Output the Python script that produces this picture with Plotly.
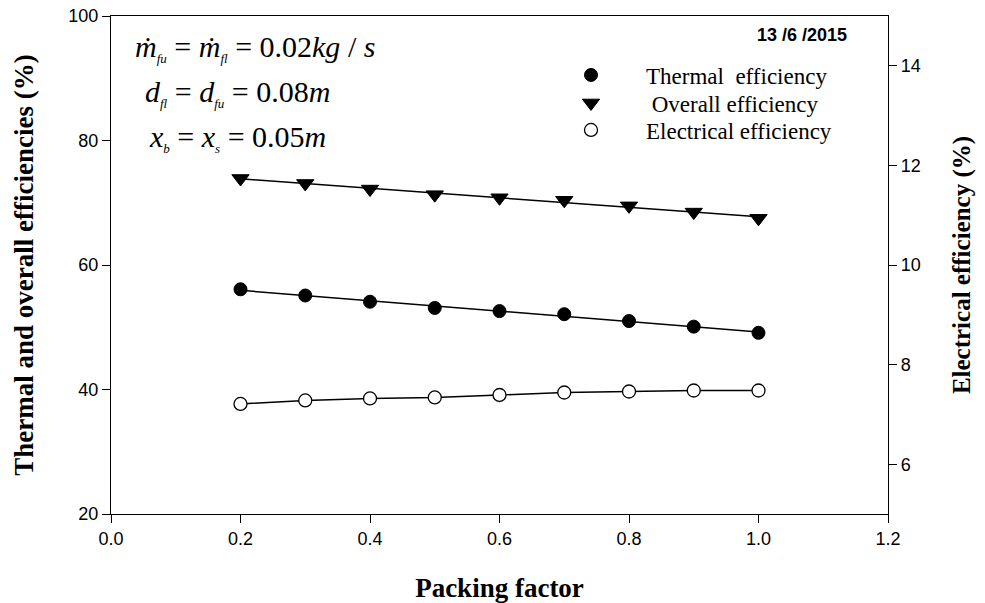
import numpy as np
import plotly.graph_objects as go

# Packing factor and measured efficiencies (13/6/2015)
packing_factor = [0.2, 0.3, 0.4, 0.5, 0.6, 0.7, 0.8, 0.9, 1.0]
thermal_eff = [56.1, 55.1, 54.1, 53.1, 52.6, 52.1, 51.0, 50.1, 49.1]
overall_eff = [73.9, 73.1, 72.2, 71.3, 70.8, 70.4, 69.5, 68.5, 67.5]
electrical_eff = [7.21, 7.28, 7.32, 7.34, 7.39, 7.44, 7.46, 7.48, 7.48]

x_ticks = [0.0, 0.2, 0.4, 0.6, 0.8, 1.0, 1.2]
y_left_ticks = [20, 40, 60, 80, 100]
y_right_ticks = [6, 8, 10, 12, 14]

SERIF = "Liberation Serif, Times New Roman, serif"
SANS = "Liberation Sans, Arial, sans-serif"
NARROW = "Liberation Sans Narrow, Arial Narrow, Liberation Sans, sans-serif"

# plot-area geometry in pixels (for placing text)
W, H = 985, 603
L, R, T, B = 111, 97, 16, 89
PW, PH = W - L - R, H - T - B


def px(xp):
    return (xp - L) / PW


def py(yp):
    return (H - B - yp) / PH


xs = np.array(packing_factor)
fit_th = np.polyval(np.polyfit(xs, thermal_eff, 1), xs)
fit_ov = np.polyval(np.polyfit(xs, overall_eff, 1), xs)

fig = go.Figure()

line_style = dict(color="black", width=1.5)

# regression lines for thermal and overall efficiency
fig.add_trace(go.Scatter(x=packing_factor, y=fit_ov, mode="lines", line=line_style,
                         showlegend=False, hoverinfo="skip"))
fig.add_trace(go.Scatter(x=packing_factor, y=fit_th, mode="lines", line=line_style,
                         showlegend=False, hoverinfo="skip"))
# electrical efficiency connecting line (right axis)
fig.add_trace(go.Scatter(x=packing_factor, y=electrical_eff, mode="lines", line=line_style,
                         yaxis="y2", showlegend=False, hoverinfo="skip"))

fig.add_trace(go.Scatter(
    x=packing_factor, y=thermal_eff, mode="markers", name="Thermal&nbsp; efficiency",
    marker=dict(symbol="circle", size=13, color="black", line=dict(color="black", width=1)),
    legend="legend"))
fig.add_trace(go.Scatter(
    x=packing_factor, y=overall_eff, mode="markers", name="&nbsp;Overall efficiency",
    marker=dict(symbol="triangle-down", size=15, color="black", line=dict(color="black", width=1)),
    legend="legend2"))
fig.add_trace(go.Scatter(
    x=packing_factor, y=electrical_eff, mode="markers", name="Electrical efficiency",
    marker=dict(symbol="circle", size=13, color="white", line=dict(color="black", width=1.3)),
    yaxis="y2", legend="legend3"))

axis_common = dict(showline=True, linecolor="black", linewidth=1.3, ticks="outside",
                   ticklen=8, tickwidth=1.3, tickcolor="black", showgrid=False,
                   zeroline=False, automargin=False)

legend_common = dict(bgcolor="rgba(0,0,0,0)", borderwidth=0, itemwidth=100,
                     font=dict(family=SERIF, size=23, color="black"),
                     xanchor="left", yanchor="middle", x=px(536))

fig.update_layout(
    width=W, height=H,
    margin=dict(l=L, r=R, t=T, b=B, autoexpand=False),
    paper_bgcolor="white", plot_bgcolor="white",
    xaxis=dict(range=[0, 1.2], tickvals=x_ticks, ticktext=[f"{v:.1f}" for v in x_ticks],
               mirror=True, tickfont=dict(family=NARROW, size=18, color="black"),
               title=dict(text="<b>Packing factor</b>", standoff=30,
                          font=dict(family=SERIF, size=27, color="black")),
               **axis_common),
    yaxis=dict(range=[20, 100], tickvals=y_left_ticks,
               tickfont=dict(family=SANS, size=18, color="black"),
               title=dict(text="<b>Thermal and overall efficiencies (%)</b>", standoff=26,
                          font=dict(family=SERIF, size=27, color="black")),
               **axis_common),
    yaxis2=dict(range=[5, 15], tickvals=y_right_ticks, overlaying="y", side="right",
                tickfont=dict(family=SANS, size=18, color="black"),
                title=dict(text="<b>Electrical efficiency (%)</b>", standoff=32,
                           font=dict(family=SERIF, size=25, color="black")),
                **axis_common),
    legend=dict(y=py(75), **legend_common),
    legend2=dict(y=py(103), **legend_common),
    legend3=dict(y=py(130), **legend_common),
)


def sub(s):
    return f"<sub><span style='font-size:13px'><i>{s}</i></span></sub>"


eq_font = dict(family=SERIF, size=30, color="black")
equations = [
    (f"<i>ṁ</i>{sub('fu')} = <i>ṁ</i>{sub('fl')} = 0.02<i>kg</i> / <i>s</i>", 133, 48),
    (f"<i>d</i>{sub('fl')} = <i>d</i>{sub('fu')} = 0.08<i>m</i>", 143, 93),
    (f"<i>x</i>{sub('b')} = <i>x</i>{sub('s')} = 0.05<i>m</i>", 147, 138),
]
for text, xp, yp in equations:
    fig.add_annotation(text=text, xref="paper", yref="paper", x=px(xp), y=py(yp),
                       xanchor="left", yanchor="middle", showarrow=False, font=eq_font)

fig.add_annotation(text="<b>13 /6 /2015</b>", xref="paper", yref="paper",
                   x=px(849), y=py(35), xanchor="right", yanchor="middle",
                   showarrow=False, font=dict(family=SANS, size=18, color="black"))

fig.write_html("out.html")
